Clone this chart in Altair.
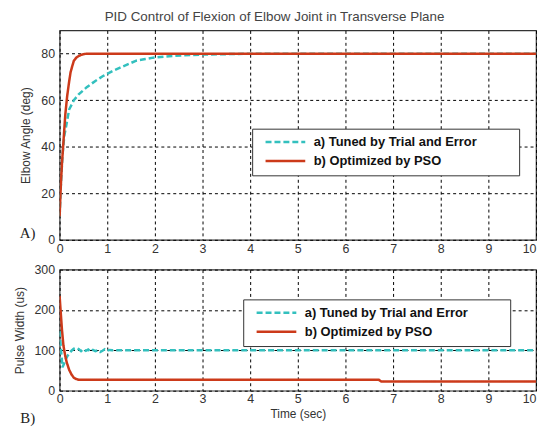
import altair as alt
import pandas as pd

# ---- data ----
SER_A = "a) Tuned by Trial and Error"
SER_B = "b) Optimized by PSO"

top_a_t = [0, 0.03, 0.06, 0.1, 0.13, 0.2, 0.3, 0.4, 0.57, 0.75, 0.92, 1.1, 1.27, 1.45, 1.61, 1.8, 1.96, 2.3, 2.6, 3.0, 3.5, 4.0, 10]
top_a_v = [10, 25, 36, 45, 48, 56, 60, 62.5, 65.6, 68.3, 70.5, 72.4, 74, 75.6, 77, 77.7, 78.3, 78.9, 79.3, 79.6, 79.8, 80, 80]
top_b_t = [0, 0.025, 0.05, 0.09, 0.12, 0.16, 0.2, 0.23, 0.27, 0.3, 0.35, 0.4, 0.45, 0.5, 0.57, 1, 10]
top_b_v = [10, 23, 33, 45, 54, 62, 68, 72, 75, 77, 78.3, 79, 79.5, 79.8, 80, 80, 80]

bot_a_t = [0, 0.03, 0.06, 0.09, 0.12, 0.16, 0.2, 0.25, 0.3, 0.35, 0.4, 0.45, 0.5, 0.55, 0.6, 0.65, 0.7, 0.75, 0.8, 0.85, 0.9, 0.95, 1.0, 1.05, 1.1, 1.2, 10]
bot_a_v = [148, 100, 58, 66, 76, 85, 92, 99, 104, 106, 103, 98, 103, 99, 102, 97, 101, 98, 100, 96, 99, 103, 99, 101, 100, 100, 100]
bot_b_t = [0, 0.02, 0.05, 0.08, 0.12, 0.15, 0.2, 0.25, 0.3, 0.35, 0.4, 0.5, 6.7, 6.75, 10]
bot_b_v = [235, 200, 150, 112, 85, 70, 52, 40, 32, 29, 27, 27, 27, 23, 23]

# annotation labels (data coords)
panel_labels = ["A)", "B)"]
panel_label_t = [-0.67, -0.67]
panel_label_v = [3, -68]

COLORS = ["#33C0BE", "#CC3A1A"]
FONT = "Liberation Sans"


def frame(ts, vs, name):
    return pd.DataFrame({"t": ts, "v": vs, "series": name})


top_df = pd.concat([frame(top_a_t, top_a_v, SER_A), frame(top_b_t, top_b_v, SER_B)])
bot_df = pd.concat([frame(bot_a_t, bot_a_v, SER_A), frame(bot_b_t, bot_b_v, SER_B)])

W = 480


def legend(lx, ly):
    return alt.Legend(
        title=" ", titleOrient="right", titlePadding=36, titleFontSize=12,
        orient="none", legendX=lx, legendY=ly,
        symbolType="M0,0H8", symbolSize=100, symbolStrokeWidth=2.5,
        labelFont=FONT, labelFontSize=13, labelFontWeight="bold",
        labelColor="#111", labelLimit=400,
        strokeColor="#333", fillColor="white", padding=7, rowPadding=5,
        labelOffset=42, cornerRadius=0, symbolOffset=0,
    )


def panel(df, ydom, yvals, ytitle, height, xtitle, lab, lab_t, lab_v, lx, ly, lpad):
    xaxis = alt.Axis(
        values=list(range(0, 11)), tickCount=11, grid=True, gridDash=[3, 3], gridColor="#000",
        gridOpacity=1, gridWidth=1, ticks=False, labelPadding=lpad, labelFontSize=12.5,
        labelColor="#333", labelFont=FONT, domain=False, title=xtitle, titleFont=FONT,
        titleFontSize=12, titleFontWeight="normal", titleColor="#333", titlePadding=4,
        labelAlign=alt.condition("datum.value == 10", alt.value("right"), alt.value("center")),
    )
    yaxis = alt.Axis(
        values=yvals, tickCount=len(yvals), grid=True, gridDash=[3, 3], gridColor="#000",
        gridOpacity=1, gridWidth=1, ticks=False, labelPadding=5, labelFontSize=12.5,
        labelColor="#333", labelFont=FONT, domain=False, title=ytitle, titleFont=FONT,
        titleFontSize=12, titleFontWeight="normal", titleColor="#333", titlePadding=8,
        labelOverlap=False,
    )
    x = alt.X("t:Q", scale=alt.Scale(domain=[0, 10], nice=False, zero=False), axis=xaxis)
    y = alt.Y("v:Q", scale=alt.Scale(domain=ydom, nice=False), axis=yaxis)
    lg = legend(lx, ly)
    lines = alt.Chart(df).mark_line(strokeWidth=2.5, clip=True).encode(
        x=x, y=y,
        color=alt.Color(
            "series:N",
            scale=alt.Scale(domain=[SER_A, SER_B], range=COLORS),
            legend=lg,
        ),
        strokeDash=alt.StrokeDash(
            "series:N",
            scale=alt.Scale(domain=[SER_A, SER_B], range=[[6, 3], [1, 0]]),
            legend=lg,
        ),
    )
    labdf = pd.DataFrame({"t": [lab_t], "v": [lab_v], "lab": [lab]})
    text = alt.Chart(labdf).mark_text(
        font="Liberation Serif", fontSize=15, color="#222", align="center", baseline="middle"
    ).encode(x="t:Q", y="v:Q", text="lab:N")
    ch = alt.layer(lines, text).properties(width=W, height=height)
    return ch


top = panel(top_df, [0, 90], [0, 20, 40, 60, 80], "Elbow Angle (deg)", 211, None,
            panel_labels[0], panel_label_t[0], panel_label_v[0], 194, 99, 3)
bot = panel(bot_df, [0, 300], [0, 100, 200, 300], "Pulse Width (us)", 122, "Time (sec)",
            panel_labels[1], panel_label_t[1], panel_label_v[1], 185, 30, 2)

chart = alt.vconcat(top, bot, spacing=6).resolve_legend(
    color="independent", strokeDash="independent"
).properties(
    title=alt.Title(
        "PID Control of Flexion of Elbow Joint in Transverse Plane",
        font=FONT, fontSize=13.5, fontWeight="normal", color="#444", anchor="middle", offset=6,
    ),
    padding={"left": 4, "top": 0, "right": 0, "bottom": 0},
).configure_view(stroke="#333", strokeWidth=1.2).configure_concat(spacing=6)

chart.save("out.html", embed_options={"renderer": "svg", "actions": False})
